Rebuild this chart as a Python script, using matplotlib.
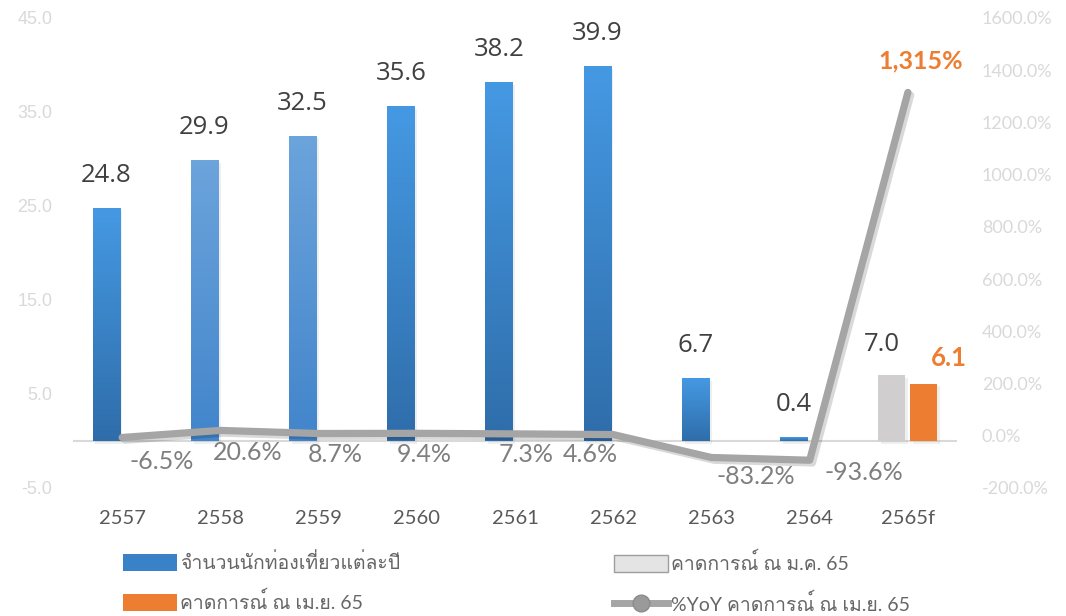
import numpy as np
import matplotlib
matplotlib.use("Agg")
import matplotlib.pyplot as plt
from matplotlib import font_manager
from matplotlib.ft2font import FT2Font
from matplotlib.colors import LinearSegmentedColormap
from matplotlib.patches import Patch
from matplotlib.lines import Line2D
import matplotlib.patheffects as pe

# data
years = ['2557', '2558', '2559', '2560', '2561', '2562', '2563', '2564', '2565f']
tourists = [24.8, 29.9, 32.5, 35.6, 38.2, 39.9, 6.7, 0.4, np.nan]
forecast_jan = [np.nan] * 8 + [7.0]
forecast_apr = [np.nan] * 8 + [6.1]
yoy = [-6.5, 20.6, 8.7, 9.4, 7.3, 4.6, -83.2, -93.6, 1315.0]

legend_labels = ['จำนวนนักท่องเที่ยวแต่ละปี', 'คาดการณ์ ณ เม.ย. 65',
                 'คาดการณ์ ณ ม.ค. 65', '%YoY คาดการณ์ ณ เม.ย. 65']

# find a font that has Thai glyphs
thai_font = None
for f in font_manager.fontManager.ttflist:
    try:
        if 0x0E08 in FT2Font(f.fname).get_charmap():
            thai_font = f.name
            break
    except Exception:
        pass
fam_thai = ['Lato'] + ([thai_font] if thai_font else []) + ['DejaVu Sans']
fam_num = ['Lato', 'DejaVu Sans']
fam_bar = ['Open Sans', 'DejaVu Sans']

BLUE_TOP, BLUE_BOT = '#4599E3', '#2F6DAA'
LIGHT_TOP, LIGHT_BOT = '#6CA4DC', '#4285CB'
GRAY = '#D0CECE'
ORANGE = '#ED7D31'
LINE = '#A5A5A5'

W, H = 1066, 616
fig = plt.figure(figsize=(W / 100, H / 100), dpi=100)
ax = fig.add_axes([73 / W, (H - 488) / H, (957 - 73) / W, 470 / H])
x = np.arange(len(years))
bw = 0.275
off = 0.163

shadow = [pe.SimplePatchShadow(offset=(2, -2), shadow_rgbFace='#999999', alpha=0.15), pe.Normal()]

def grad_bar(bar, top, bot):
    h = bar.get_height()
    if not np.isfinite(h) or h == 0:
        return
    x0, y0, w = bar.get_x(), bar.get_y(), bar.get_width()
    cmap = LinearSegmentedColormap.from_list('g', [bot, top])
    img = ax.imshow(np.linspace(0, 1, 256).reshape(-1, 1), cmap=cmap,
                    extent=[x0, x0 + w, y0, y0 + h], origin='lower',
                    aspect='auto', zorder=2.1)
    img.set_clip_path(bar)

bars = ax.bar(x - off, tourists, bw, color='none', edgecolor='none', zorder=2)
for i, b in enumerate(bars):
    b.set_path_effects(shadow)
    if i in (1, 2):
        grad_bar(b, LIGHT_TOP, LIGHT_BOT)
    else:
        grad_bar(b, BLUE_TOP, BLUE_BOT)
gbars = ax.bar(x - off, forecast_jan, bw, color=GRAY, zorder=2)
obars = ax.bar(x + off, forecast_apr, bw, color=ORANGE, zorder=2)
for b in list(gbars) + list(obars):
    b.set_path_effects(shadow)

ax.axhline(0, color='#D9D9D9', lw=1.5, zorder=1)

for i, v in enumerate(tourists):
    if np.isfinite(v):
        ax.annotate(f'{v:.1f}', (x[i] - off, v), xytext=(0, 20), textcoords='offset pixels',
                    ha='center', va='bottom', fontsize=18.5, color='#404040', family=fam_bar)
for i, v in enumerate(forecast_jan):
    if np.isfinite(v):
        ax.annotate(f'{v:.1f}', (x[i] - off, v), xytext=(-10, 18), textcoords='offset pixels',
                    ha='center', va='bottom', fontsize=18.5, color='#404040', family=fam_bar)
for i, v in enumerate(forecast_apr):
    if np.isfinite(v):
        ax.annotate(f'{v:.1f}', (x[i] + off, v), xytext=(25, 14), textcoords='offset pixels',
                    ha='center', va='bottom', fontsize=18.5, color=ORANGE, fontweight='bold', family=fam_num)

ax.set_xlim(-0.5, len(years) - 0.5)
ax.set_ylim(-5, 45)
ax.set_yticks(np.arange(-5, 46, 10))
ax.set_yticklabels([f'{t:.1f}' for t in np.arange(-5, 46, 10)])
ax.set_xticks(x)
ax.set_xticklabels(years)
ax.tick_params(axis='y', length=0, pad=15, labelsize=13, labelcolor='#D9D9D9')
ax.tick_params(axis='x', length=0, pad=16, labelsize=14.5, labelcolor='#595959')
for lab in ax.get_yticklabels():
    lab.set_family(['Liberation Sans', 'DejaVu Sans'])
for lab in ax.get_xticklabels():
    lab.set_family(fam_num)
for s in ax.spines.values():
    s.set_visible(False)

ax2 = ax.twinx()
ax2.plot(x, yoy, color=LINE, lw=5.2, solid_capstyle='round', solid_joinstyle='round', zorder=3,
         path_effects=[pe.SimpleLineShadow(offset=(2, -2), alpha=0.15), pe.Normal()])
ax2.set_ylim(-200, 1600)
rt = np.arange(-200, 1601, 200)
ax2.set_yticks(rt)
ax2.set_yticklabels([f'{t:.1f}%' for t in rt])
ax2.tick_params(axis='y', length=0, pad=18, labelsize=13, labelcolor='#D9D9D9')
for lab in ax2.get_yticklabels():
    lab.set_family(fam_num)
for s in ax2.spines.values():
    s.set_visible(False)

# label offsets in pixels (dx, dy)
yoy_off = [(40, -24), (27, -22), (17, -21), (7, -21), (11, -21), (-23, -20), (44, -19), (54, -12), (13, 31)]
for i, v in enumerate(yoy):
    txt = f'{v:,.0f}%' if abs(v) >= 1000 else f'{v:.1f}%'
    big = abs(v) >= 1000
    ax2.annotate(txt, (x[i], v), xytext=yoy_off[i], textcoords='offset pixels',
                 ha='center', va='center', fontsize=18,
                 color=ORANGE if big else '#7F7F7F',
                 fontweight='bold' if big else 'normal', family=fam_num)

# legend
h_blue = Patch(facecolor='#3A82C8', edgecolor='none')
h_orange = Patch(facecolor=ORANGE, edgecolor='none')
h_gray = Patch(facecolor='#E4E4E4', edgecolor='#9E9E9E', lw=1)
h_line = Line2D([], [], color=LINE, lw=5, marker='o', markersize=12,
                markerfacecolor='#9A9A9A', markeredgecolor='#8A8A8A')
leg_kw = dict(frameon=False, handlelength=2.8, handleheight=0.95,
              handletextpad=0.15, labelspacing=1.0, labelcolor='#666666',
              borderaxespad=0, borderpad=0, prop={'family': fam_thai, 'size': 14})
fig.legend([h_blue, h_orange], legend_labels[:2], loc='upper left',
           bbox_to_anchor=(123 / W, 1 - 552 / H), **leg_kw)
fig.legend([h_gray, h_line], legend_labels[2:], loc='upper left',
           bbox_to_anchor=(614 / W, 1 - 552 / H), **leg_kw)

fig.savefig('out.png', dpi=100, facecolor='white')
